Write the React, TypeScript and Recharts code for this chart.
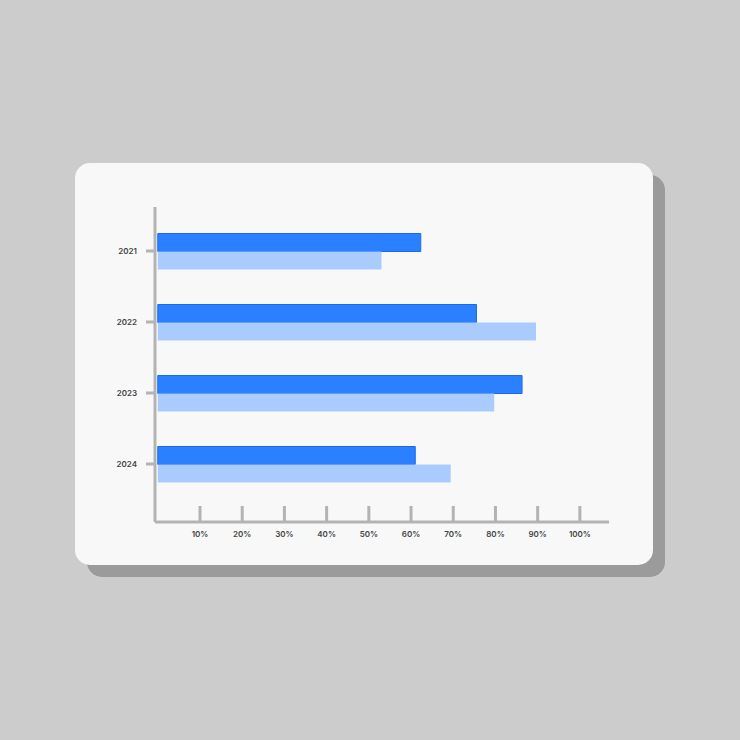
import { BarChart, Bar, XAxis, YAxis } from "recharts"

const years = ["2021", "2022", "2023", "2024"]
const primary = [62.3, 75.5, 86.3, 61.0]
const secondary = [53.0, 89.6, 79.7, 69.4]
const pctTicks = [10, 20, 30, 40, 50, 60, 70, 80, 90, 100]

const data = years.map((year, i) => ({ year, primary: primary[i], secondary: secondary[i] }))

const AXIS = "#b3b3b3"
const FONT = "Inter, 'Open Sans', sans-serif"

function PctTick({ x, y, payload }: any) {
  return (
    <g>
      <line x1={x} x2={x} y1={y - 16} y2={y} stroke={AXIS} strokeWidth={3} />
      <text x={x} y={y + 15} textAnchor="middle" fontSize={8} fontWeight={600} fill="#444" fontFamily={FONT}>
        {payload.value}%
      </text>
    </g>
  )
}

export default function App() {
  return (
    <div style={{ position: "absolute", left: 0, top: 0, width: 740, height: 740, background: "#cccccc", overflow: "hidden" }}>
      <div
        style={{
          position: "absolute",
          left: 75,
          top: 163,
          width: 578,
          height: 402,
          borderRadius: 15,
          background: "#f8f8f8",
          boxShadow: "12px 12px 0 #9b9b9b",
        }}
      />
      <div style={{ position: "absolute", left: 0, top: 0 }}>
        <BarChart
          width={740}
          height={740}
          data={data}
          layout="vertical"
          margin={{ top: 207, right: 131, left: 95, bottom: 188 }}
          barSize={18}
          barGap={0}
        >
          <XAxis
            type="number"
            domain={[-0.66, 106.9]}
            ticks={pctTicks}
            allowDataOverflow
            height={30}
            axisLine={{ stroke: AXIS, strokeWidth: 3 }}
            tickLine={false}
            tickSize={0}
            tickMargin={0}
            tick={<PctTick />}
          />
          <YAxis
            type="category"
            dataKey="year"
            width={60}
            padding={{ top: 8.5, bottom: 22.5 }}
            axisLine={{ stroke: AXIS, strokeWidth: 3 }}
            tickLine={{ stroke: AXIS, strokeWidth: 3 }}
            tickSize={9}
            tickMargin={9}
            tick={{ fontSize: 8, fontWeight: 600, fill: "#444", fontFamily: FONT }}
          />
          <Bar dataKey="primary" fill="#2b80ff" stroke="#1c6ae8" strokeWidth={1} isAnimationActive={false} />
          <Bar dataKey="secondary" fill="#a9cbfe" isAnimationActive={false} />
        </BarChart>
      </div>
    </div>
  )
}
